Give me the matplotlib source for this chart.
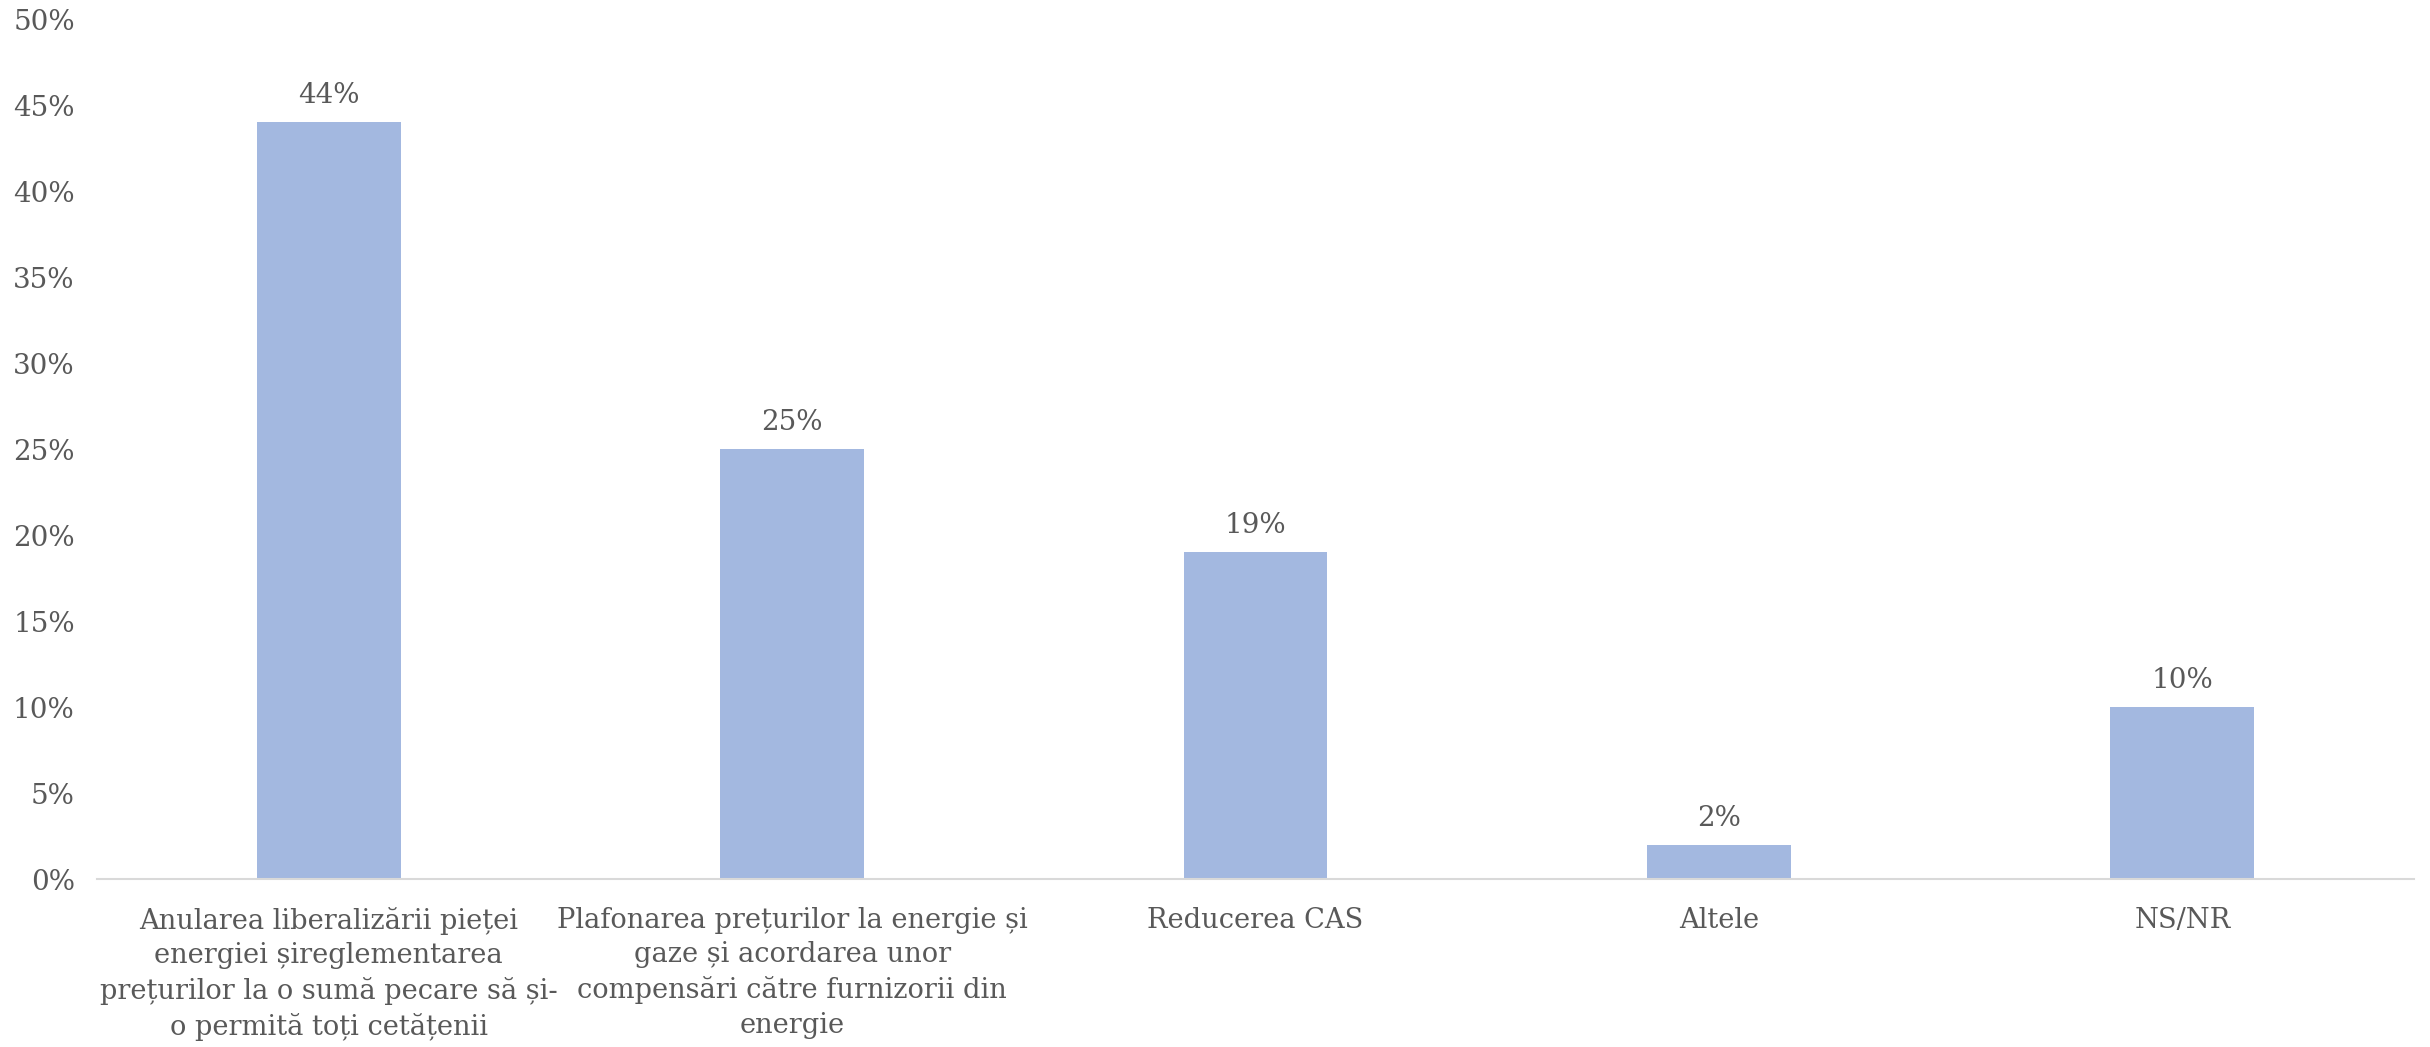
import matplotlib.pyplot as plt
import numpy as np

categories = [
    "Anularea liberalizării pieței\nenergiei șireglementarea\nprețurilor la o sumă pecare să și-\no permită toți cetățenii",
    "Plafonarea prețurilor la energie și\ngaze și acordarea unor\ncompensări către furnizorii din\nenergie",
    "Reducerea CAS",
    "Altele",
    "NS/NR",
]
values = [44, 25, 19, 2, 10]
yticks = [0, 5, 10, 15, 20, 25, 30, 35, 40, 45, 50]

plt.rcParams['font.family'] = ['DejaVu Serif']
text_color = '#595959'

fig = plt.figure(figsize=(24.3, 10.47), dpi=100)
ax = fig.add_axes([97 / 2430, 1 - 879 / 1047, (2414 - 97) / 2430, (879 - 19) / 1047])

x = np.arange(len(categories))
bars = ax.bar(x, values, width=0.31, color='#A3B8E0')
for xi, v in zip(x, values):
    ax.text(xi, v + 0.75, f'{v}%', ha='center', va='bottom', fontsize=20, color=text_color)

ax.set_xlim(-0.5, len(categories) - 0.5)
ax.set_ylim(0, 50)
ax.set_yticks(yticks)
ax.set_yticklabels([f'{t}%' for t in yticks], fontsize=20, color=text_color)
ax.set_xticks(x)
ax.set_xticklabels(categories, fontsize=19.6, color=text_color, linespacing=1.36, va='top')
ax.tick_params(axis='both', length=0)
ax.tick_params(axis='y', pad=16)
ax.tick_params(axis='x', pad=20)

for s in ['top', 'right', 'left']:
    ax.spines[s].set_visible(False)
ax.spines['bottom'].set_color('#D9D9D9')
ax.spines['bottom'].set_linewidth(1.5)

fig.savefig('out.png', dpi=100)
